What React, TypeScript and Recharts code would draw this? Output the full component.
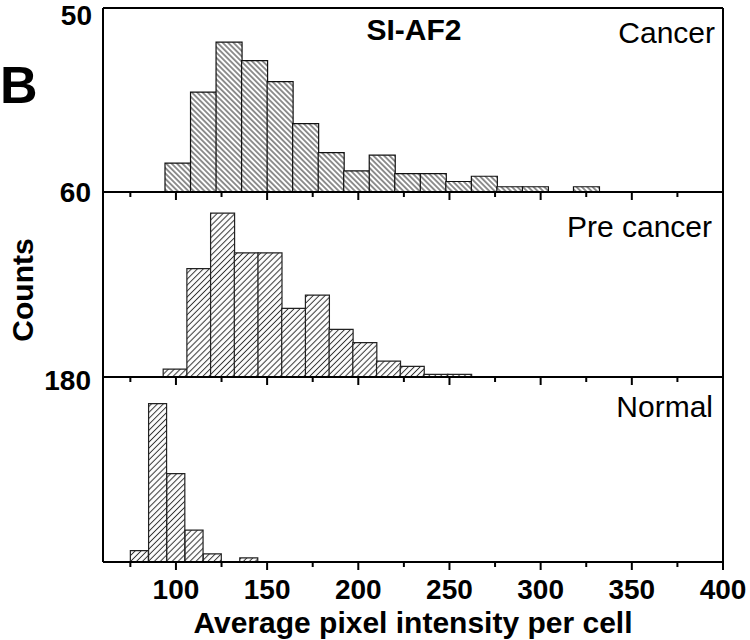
import React from "react";
import { Bar, BarChart, ReferenceLine, XAxis, YAxis } from "recharts";

// bin centers (pixel intensity) and counts per bin
const cancerCenters = [101, 115, 129, 143, 157, 171, 185, 199, 213, 227, 241, 255, 269, 283, 297, 311, 325];
const cancerCounts = [11, 38, 57, 50, 42, 26, 15, 8, 14, 7, 7, 4, 6, 2, 2, 0, 2];

const precancerCenters = [99.5, 112.5, 125.5, 138.5, 151.5, 164.5, 177.5, 190.5, 203.5, 216.5, 229.5, 242.5, 255.5];
const precancerCounts = [3, 41, 62, 47, 47, 26, 31, 18, 13, 6, 4, 1, 1];

const normalCenters = [80, 90, 100, 110, 120, 130, 140];
const normalCounts = [11, 154, 86, 31, 8, 0, 4];

const xTicks = [75, 100, 125, 150, 175, 200, 225, 250, 275, 300, 325, 350, 375, 400];
const yTickLabels = ["50", "60", "180"];
const panelNames = ["Cancer", "Pre cancer", "Normal"];

const FONT = '"Liberation Sans", Arial, Helvetica, sans-serif';

type XTickProps = {
    x?: number;
    y?: number;
    payload?: { value: number };
    showLabel: boolean;
};

function XTick({ x = 0, y = 0, payload, showLabel }: XTickProps) {
    const value = payload?.value ?? 0;
    const major = value % 50 === 0;
    return (
        <g>
            <line x1={x} x2={x} y1={y} y2={y + (major ? 8 : 5)} stroke="#000" strokeWidth={2} />
            {showLabel && major && (
                <text
                    x={x}
                    y={y + 37}
                    textAnchor="middle"
                    fontFamily={FONT}
                    fontWeight="bold"
                    fontSize={28}
                    fill="#000"
                >
                    {value}
                </text>
            )}
        </g>
    );
}

type PanelProps = {
    centers: number[];
    counts: number[];
    top: number;
    height: number;
    yMax: number;
    yTicks: number[];
    patternId: string;
    angle: number;
    spacing: number;
    hatchColor: string;
    strokeColor: string;
    axisHeight: number;
    showLabels: boolean;
    showTop: boolean;
};

function Panel({
    centers,
    counts,
    top,
    height,
    yMax,
    yTicks,
    patternId,
    angle,
    spacing,
    hatchColor,
    strokeColor,
    axisHeight,
    showLabels,
    showTop,
}: PanelProps) {
    const data = centers.map((x, i) => ({ x, count: counts[i] }));

    return (
        <div style={{ position: "absolute", left: 0, top: 0 }}>
            <BarChart
                width={750}
                height={top + height + axisHeight}
                data={data}
                margin={{ top, right: 27, bottom: 0, left: 93 }}
                barCategoryGap={0}
                barGap={0}
            >
                <defs>
                    <pattern
                        id={patternId}
                        patternUnits="userSpaceOnUse"
                        width={spacing}
                        height={spacing}
                        patternTransform={`rotate(${angle})`}
                    >
                        <rect width={spacing} height={spacing} fill="#fff" />
                        <line
                            x1={spacing / 2}
                            y1={0}
                            x2={spacing / 2}
                            y2={spacing}
                            stroke={hatchColor}
                            strokeWidth={1}
                        />
                    </pattern>
                </defs>
                <XAxis
                    type="number"
                    dataKey="x"
                    domain={[60, 400]}
                    ticks={xTicks}
                    interval={0}
                    tickSize={0}
                    tickMargin={0}
                    tickLine={false}
                    axisLine={{ stroke: "#000", strokeWidth: 2 }}
                    tick={(p: any) => <XTick {...p} showLabel={showLabels} />}
                    height={axisHeight}
                    allowDataOverflow
                />
                <YAxis
                    type="number"
                    domain={[0, yMax]}
                    ticks={yTicks}
                    tick={false}
                    tickSize={8}
                    width={10}
                    axisLine={{ stroke: "#000", strokeWidth: 2 }}
                    tickLine={{ stroke: "#000", strokeWidth: 2 }}
                    allowDataOverflow
                />
                <Bar
                    dataKey="count"
                    fill={`url(#${patternId})`}
                    stroke={strokeColor}
                    strokeWidth={1.2}
                    isAnimationActive={false}
                />
                {showTop && <ReferenceLine y={yMax} stroke="#000" strokeWidth={2} />}
                <ReferenceLine x={400} stroke="#000" strokeWidth={2} />
            </BarChart>
        </div>
    );
}

export default function App() {
    return (
        <div style={{ position: "absolute", left: 0, top: 0, width: 750, height: 640, background: "#fff" }}>
            <Panel
                centers={cancerCenters}
                counts={cancerCounts}
                top={8}
                height={184}
                yMax={70}
                yTicks={[0, 50]}
                patternId="hatchCancer"
                angle={-45}
                spacing={3.8}
                hatchColor="#222"
                strokeColor="#111"
                axisHeight={12}
                showLabels={false}
                showTop
            />
            <Panel
                centers={precancerCenters}
                counts={precancerCounts}
                top={192}
                height={185}
                yMax={70}
                yTicks={[0, 60]}
                patternId="hatchPre"
                angle={45}
                spacing={4.2}
                hatchColor="#333"
                strokeColor="#222"
                axisHeight={12}
                showLabels={false}
                showTop={false}
            />
            <Panel
                centers={normalCenters}
                counts={normalCounts}
                top={377}
                height={185}
                yMax={180}
                yTicks={[0, 180]}
                patternId="hatchNormal"
                angle={45}
                spacing={4.2}
                hatchColor="#333"
                strokeColor="#222"
                axisHeight={50}
                showLabels
                showTop={false}
            />
            <svg
                width={750}
                height={640}
                style={{ position: "absolute", left: 0, top: 0, pointerEvents: "none" }}
                fontFamily={FONT}
            >
                <text x={0} y={103} fontSize={52} fontWeight="bold" fill="#000">
                    B
                </text>
                <text x={92} y={25} textAnchor="end" fontSize={28} fontWeight="bold" fill="#000">
                    {yTickLabels[0]}
                </text>
                <text x={91} y={202} textAnchor="end" fontSize={28} fontWeight="bold" fill="#000">
                    {yTickLabels[1]}
                </text>
                <text x={91} y={390} textAnchor="end" fontSize={28} fontWeight="bold" fill="#000">
                    {yTickLabels[2]}
                </text>
                <text
                    x={33}
                    y={290}
                    textAnchor="middle"
                    fontSize={30}
                    fontWeight="bold"
                    fill="#000"
                    transform="rotate(-90 33 290)"
                >
                    Counts
                </text>
                <text x={414} y={40} textAnchor="middle" fontSize={30} fontWeight="bold" fill="#000">
                    SI-AF2
                </text>
                <text x={715} y={43} textAnchor="end" fontSize={30} fill="#000">
                    {panelNames[0]}
                </text>
                <text x={712} y={237} textAnchor="end" fontSize={30} fill="#000">
                    {panelNames[1]}
                </text>
                <text x={713} y={417} textAnchor="end" fontSize={30} fill="#000">
                    {panelNames[2]}
                </text>
                <text x={413} y={633} textAnchor="middle" fontSize={30} fontWeight="bold" fill="#000">
                    Average pixel intensity per cell
                </text>
            </svg>
        </div>
    );
}
